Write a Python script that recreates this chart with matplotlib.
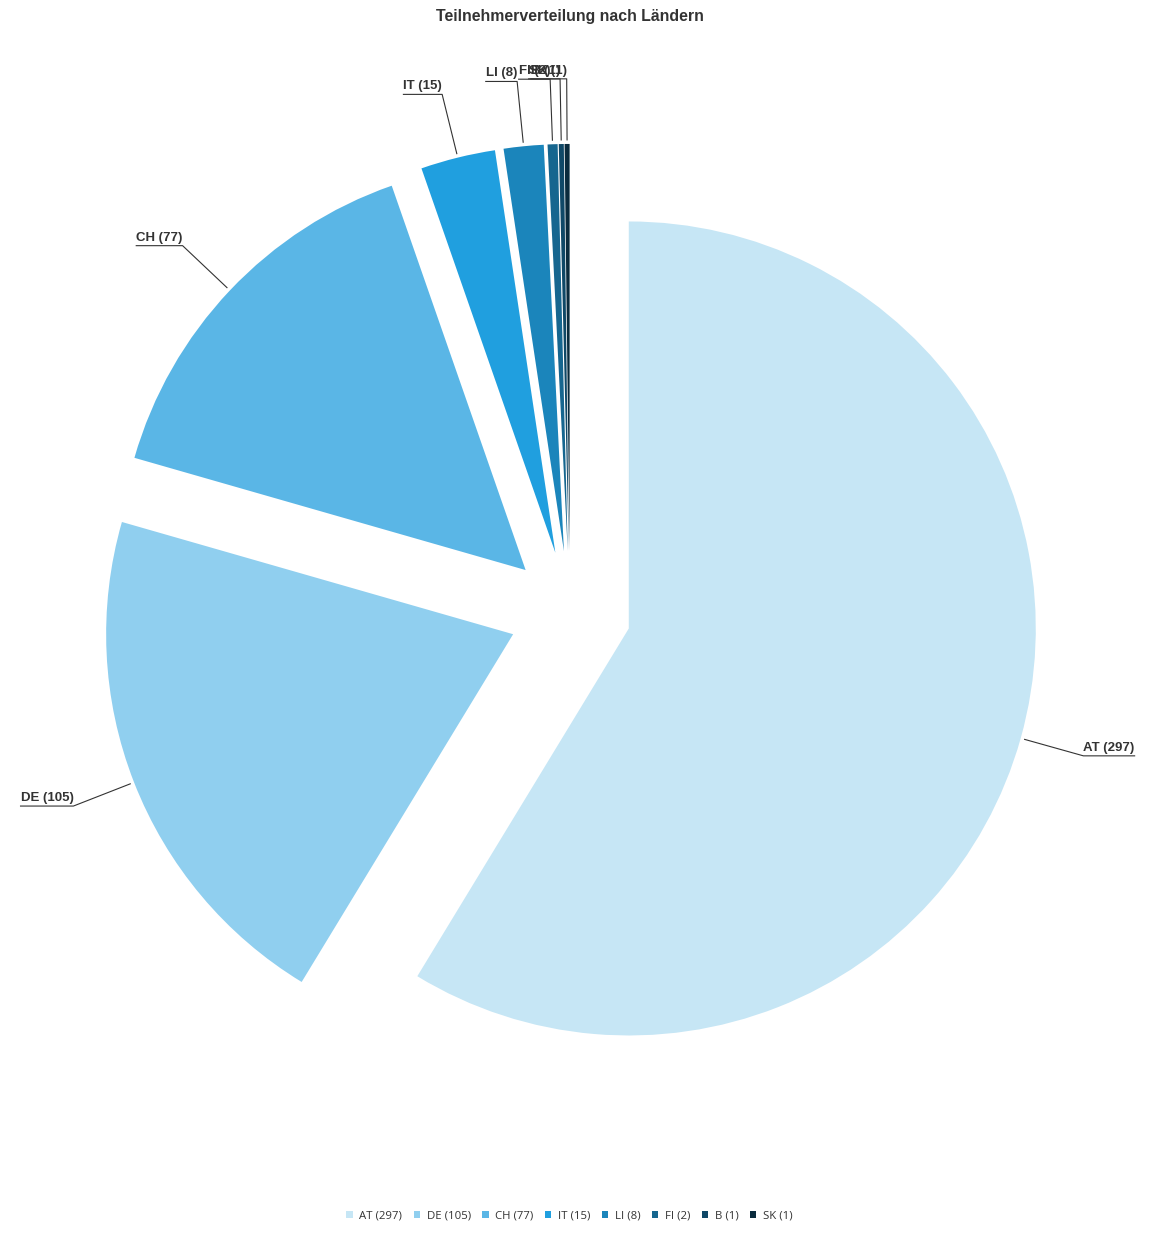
import numpy as np
import matplotlib.pyplot as plt

# Daten: Teilnehmer pro Land
laender = ["AT", "DE", "CH", "IT", "LI", "FI", "B", "SK"]
teilnehmer = [297, 105, 77, 15, 8, 2, 1, 1]
farben = ["#c6e6f5", "#90cfef", "#5ab6e6", "#209fdf", "#1b85bb", "#16668f", "#0f4867", "#0a2b3d"]
beschriftung = [f"{l} ({n})" for l, n in zip(laender, teilnehmer)]

W, H = 1160, 1240
cx, cy, R = 570, 612, 407  # Mittelpunkt und Radius in Pixel

fig = plt.figure(figsize=(W / 100, H / 100), dpi=100)
ax = fig.add_axes([0, 0, 1, 1])

explode = [0.15] * len(teilnehmer)
wedges, _ = ax.pie(teilnehmer, colors=farben, startangle=90, counterclock=False,
                   explode=explode, radius=1, wedgeprops=dict(linewidth=0))

# pie() setzt eigene Grenzen -> danach ueberschreiben
ax.set_aspect("auto")
ax.set_xlim(-cx / R, (W - cx) / R)
ax.set_ylim(-(H - cy) / R, cy / R)
ax.axis("off")

fig.canvas.draw()
renderer = fig.canvas.get_renderer()

# Beschriftungen mit Verbindungslinien
for w, text, ex in zip(wedges, beschriftung, explode):
    theta = np.deg2rad((w.theta1 + w.theta2) / 2)
    d = np.array([np.cos(theta), np.sin(theta)])
    mitte = ex * d
    p0 = mitte + 1.01 * d
    p1 = mitte + 1.16 * d
    rechts = d[0] > 0
    t = ax.text(p1[0], p1[1] + 2 / R, text, ha="left" if rechts else "right", va="bottom",
                fontsize=9.5, fontweight="bold", color="#333333", family="Liberation Sans")
    bb = t.get_window_extent(renderer)
    breite = bb.width / R
    x2 = p1[0] + breite if rechts else p1[0] - breite
    ax.plot([p0[0], p1[0], x2], [p0[1], p1[1], p1[1]], color="#333333", lw=0.8)

fig.text(0.491, 1 - 17 / H, "Teilnehmerverteilung nach Ländern", ha="center", va="center",
         fontsize=11.4, fontweight="bold", color="#333333", family="Liberation Sans")

leg = fig.legend(wedges, beschriftung, loc="center", bbox_to_anchor=(0.491, 1 - 1216 / H),
                 ncol=len(laender), frameon=False, handlelength=0.55,
                 handleheight=0.55, handletextpad=0.6, columnspacing=1.0,
                 prop={"family": "Open Sans", "size": 8.2})
for t in leg.get_texts():
    t.set_color("#333333")

fig.savefig("out.png", dpi=100)
